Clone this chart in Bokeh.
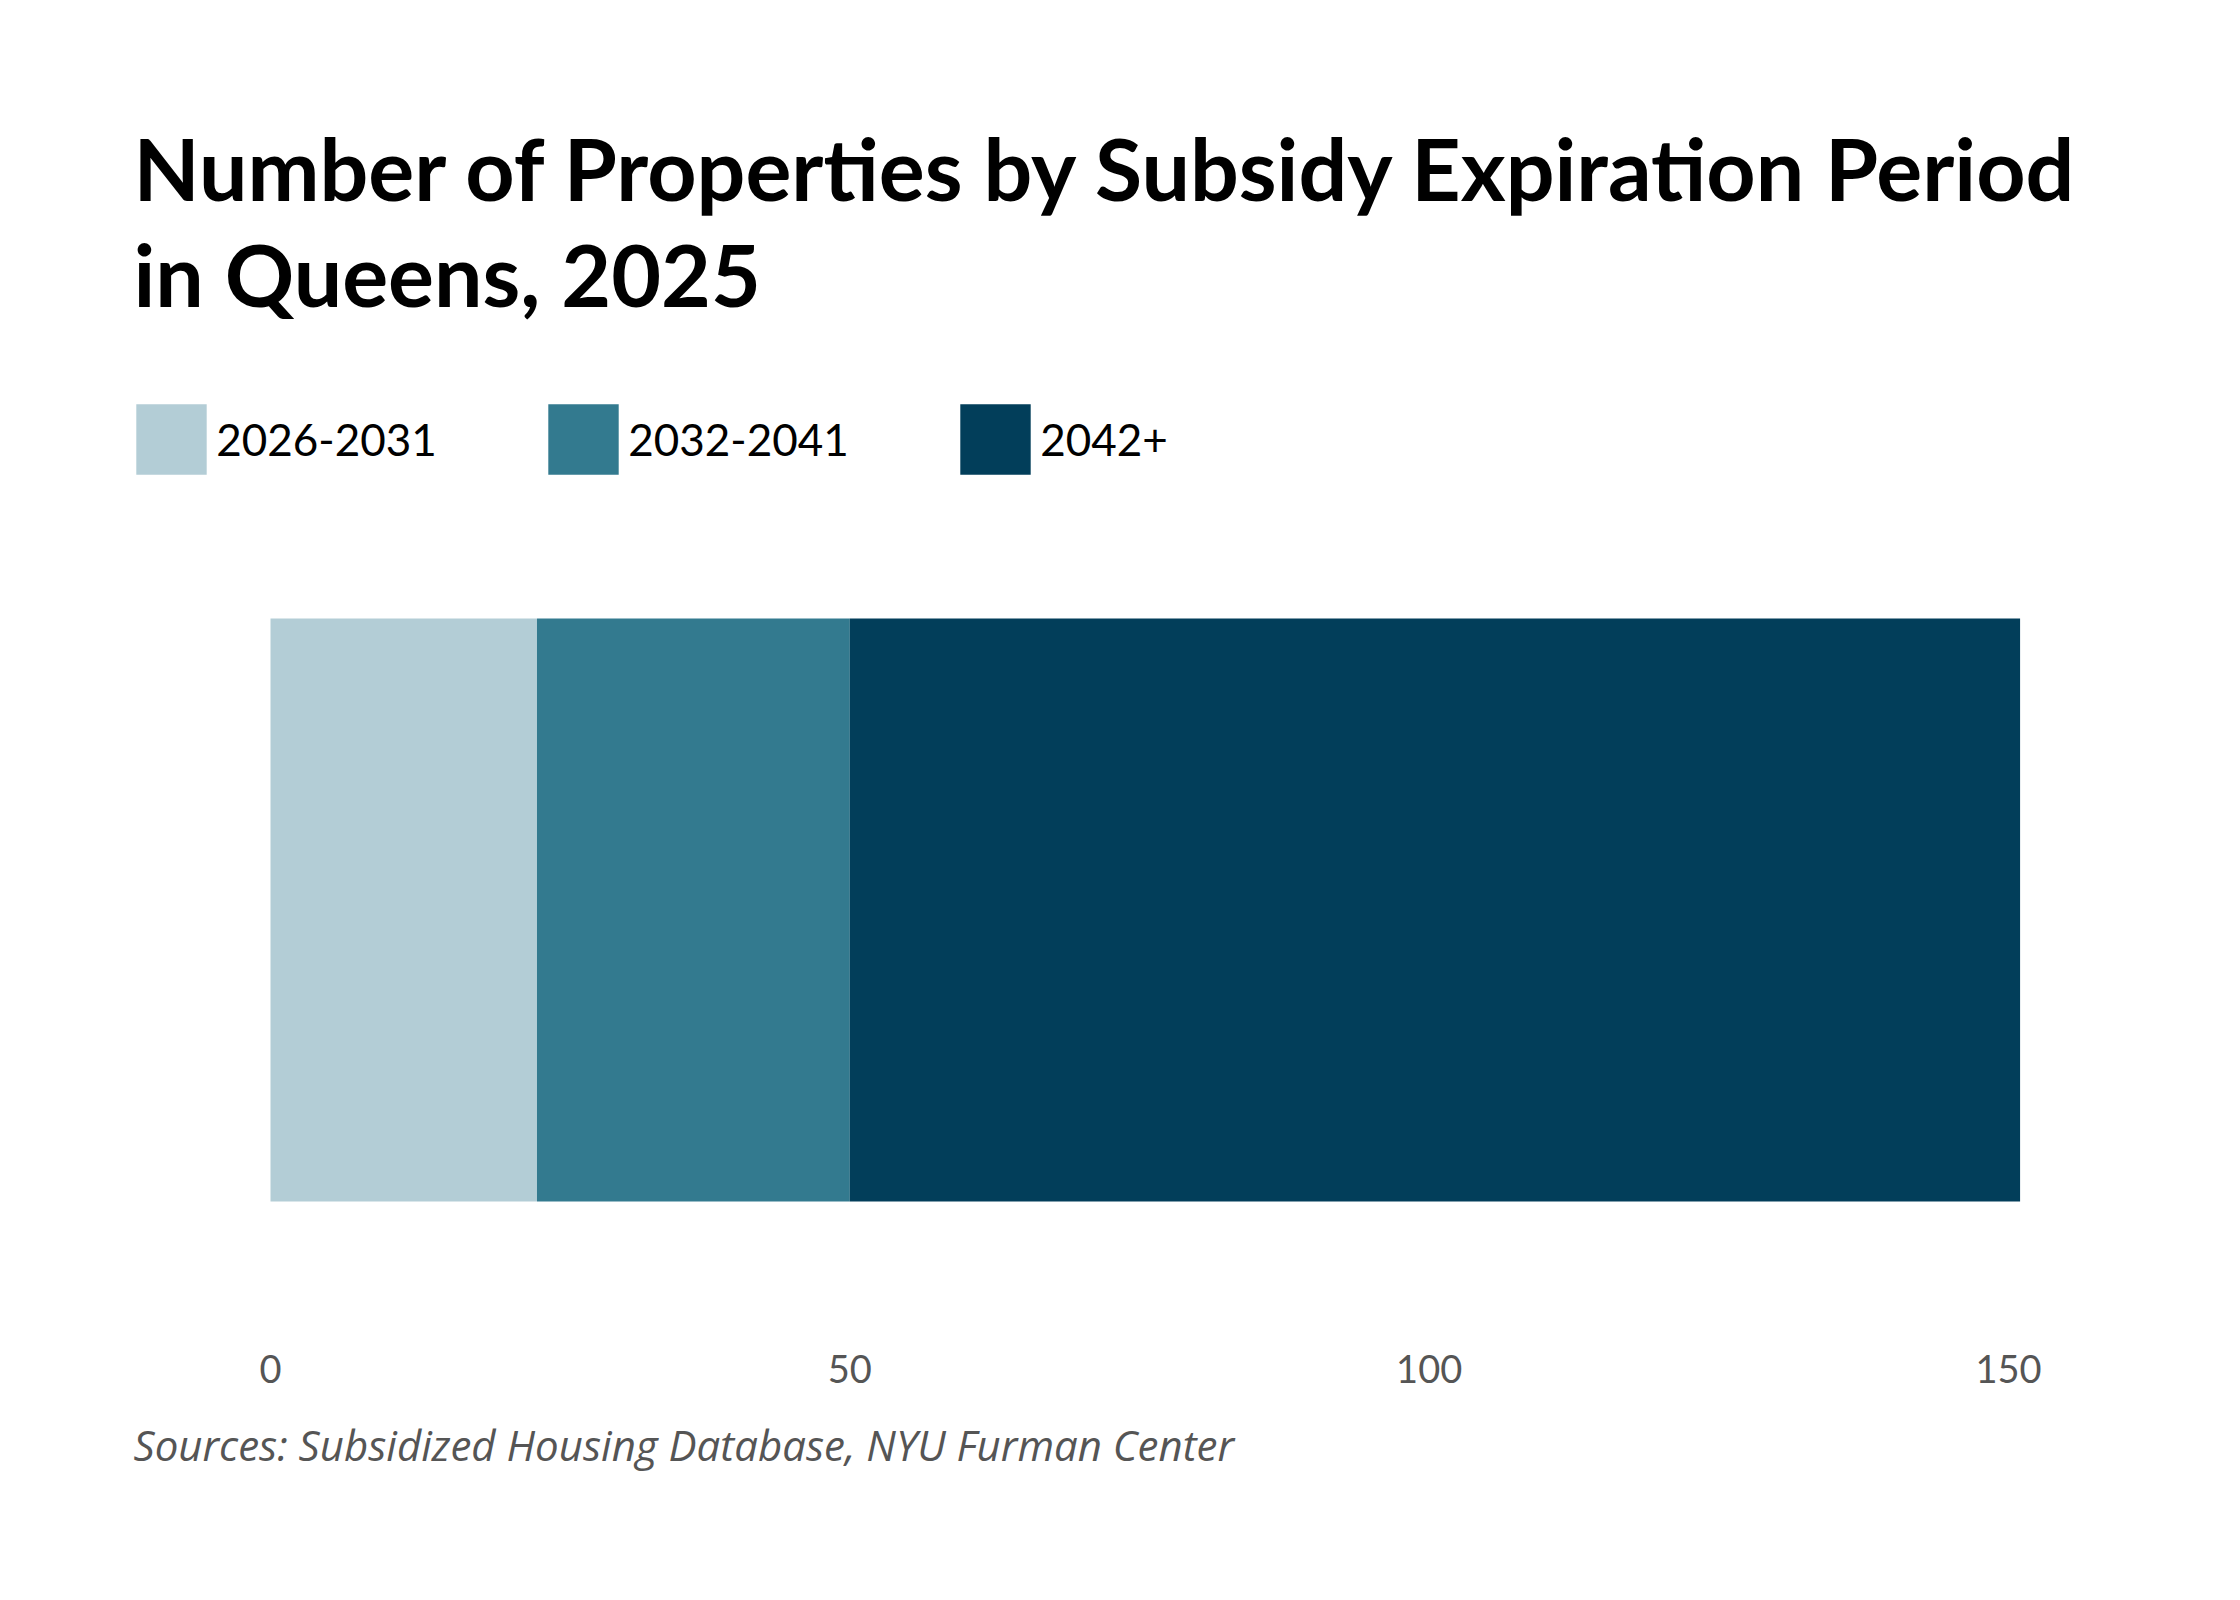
from bokeh.plotting import figure
from bokeh.models import (ColumnDataSource, Range1d, FixedTicker,
                          Label, Legend, LegendItem, Title)
from bokeh.embed import file_html
from bokeh.resources import INLINE

# ---- data ----
boroughs = ["Queens"]
periods = ["2026-2031", "2032-2041", "2042+"]
counts_2026_2031 = [23]
counts_2032_2041 = [27]
counts_2042_plus = [101]
colors = ["#b3cdd6", "#337a8f", "#023e5a"]
x_ticks = [0, 50, 100, 150]

title_lines = ["Number of Properties by Subsidy Expiration Period", "in Queens, 2025"]
source_note = "Sources: Subsidized Housing Database, NYU Furman Center"

source = ColumnDataSource(data={
    "borough": boroughs,
    "row": [0],
    periods[0]: counts_2026_2031,
    periods[1]: counts_2032_2041,
    periods[2]: counts_2042_plus,
})

# ---- layout (pixels) ----
W, H = 2224, 1584
FRAME_BOTTOM = 1320
X0_PX, X150_PX = 270, 2008
ppu = (X150_PX - X0_PX) / 150.0
BAR_TOP, BAR_BOTTOM = 618, 1201
bar_h = BAR_BOTTOM - BAR_TOP
bar_c = (BAR_TOP + BAR_BOTTOM) / 2.0

p = figure(width=W, height=H, output_backend="svg", toolbar_location=None,
           x_range=Range1d(-X0_PX / ppu, (W - X0_PX) / ppu),
           y_range=Range1d(-(FRAME_BOTTOM - bar_c) / bar_h, bar_c / bar_h),
           y_axis_location=None,
           min_border_left=0, min_border_right=0,
           min_border_top=0, min_border_bottom=H - FRAME_BOTTOM)
p.outline_line_color = None
p.background_fill_color = "white"
p.border_fill_color = "white"
p.xgrid.visible = False
p.ygrid.visible = False

renderers = p.hbar_stack(periods, y="row", height=1.0, source=source,
                         fill_color=colors, line_color=None)

ax = p.xaxis[0]
ax.ticker = FixedTicker(ticks=x_ticks)
ax.axis_line_color = None
ax.major_tick_line_color = None
ax.minor_tick_line_color = None
ax.major_tick_out = 0
ax.major_tick_in = 0
ax.major_label_standoff = 34
ax.major_label_text_font = "Lato"
ax.major_label_text_font_size = "38px"
ax.major_label_text_color = "#555555"

legend = Legend(items=[LegendItem(label=lab, renderers=[r]) for lab, r in zip(periods, renderers)],
                orientation="horizontal", location=(127.25, FRAME_BOTTOM - 483.25),
                glyph_width=88, glyph_height=88, label_standoff=1,
                label_width=313, spacing=10, padding=0, margin=0,
                border_line_color=None, background_fill_alpha=0,
                label_text_font="Lato", label_text_font_size="44px",
                label_text_color="black")
p.add_layout(legend, "center")

for txt, yb in zip(title_lines, [167, 273]):
    p.add_layout(Label(x=133, y=yb, x_units="canvas", y_units="canvas", text=txt,
                       text_font="Lato", text_font_style="bold",
                       text_font_size="86px", text_color="black",
                       text_baseline="alphabetic", text_align="left"))

p.add_layout(Title(text=source_note, align="left", offset=133, standoff=56,
                   text_font="Open Sans", text_font_style="italic",
                   text_font_size="42px", text_color="#555555"), "below")

open("out.html", "w").write(file_html(p, INLINE))
